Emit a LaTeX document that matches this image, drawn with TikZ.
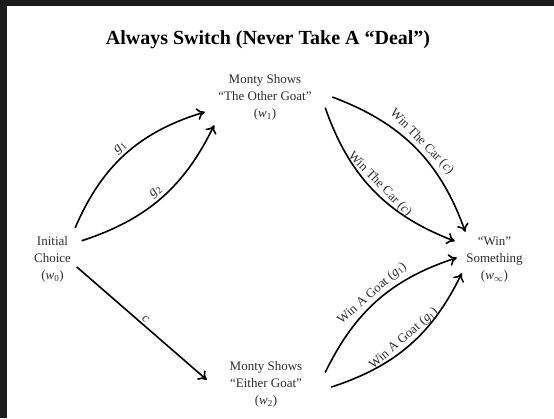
\documentclass[tikz,border=0pt]{standalone}
\usepackage{fontspec}
\setmainfont{Liberation Serif}
\usetikzlibrary{arrows.meta}
\definecolor{framecol}{RGB}{28,28,28}
\definecolor{txt}{RGB}{45,45,45}
\newcommand{\vsub}[2]{\textit{#1}\textsubscript{#2}}
\begin{document}
\begin{tikzpicture}[x=1pt,y=-1pt,
  state/.style={align=center, inner sep=0pt, font=\fontsize{13}{17}\selectfont, text=txt},
  arr/.style={line width=1.6pt, -{Computer Modern Rightarrow[length=8pt,width=12pt]}},
  lab/.style={font=\fontsize{13}{15}\selectfont, text=txt, sloped, above, inner sep=2pt}]
\useasboundingbox (0,0) rectangle (554,418);
\fill[framecol] (0,0) rectangle (554,418);
\fill[white] (7,6) rectangle (554,418);
\node[font=\bfseries\fontsize{20}{24}\selectfont, anchor=base] (title) at (268,44) {Always Switch (Never Take A “Deal”)};
\node[state, minimum width=48pt, minimum height=62pt] (w0) at (52.5,259) {Initial\\Choice\\(\vsub{w}{0})};
\node[state, minimum width=120pt, minimum height=56pt] (w1) at (265,97) {Monty Shows\\“The Other Goat”\\(\vsub{w}{1})};
\node[state, minimum width=118pt, minimum height=56pt] (w2) at (266,384) {Monty Shows\\“Either Goat”\\(\vsub{w}{2})};
\node[state, minimum width=65pt, minimum height=56pt] (winf) at (494.5,260) {“Win”\\Something\\(\vsub{w}{$\infty$})};
\draw[arr] (w0.54) to[bend left=25] node[lab, font=\fontsize{14}{16}\selectfont]{\vsub{g}{1}} (w1.194);
\draw[arr] ([xshift=5pt]w0.37) to[bend right=23] node[lab, font=\fontsize{14}{16}\selectfont]{\vsub{g}{2}} (w1.209);
\draw[arr] (w0.-18) -- node[lab]{\textit{c}} (w2.176);
\draw[arr] ([xshift=7pt]w1.east) to[bend left=25] node[lab]{Win The Car (\textit{c})} (winf.136);
\draw[arr] (w1.-10) to[bend right=25] node[lab]{Win The Car (\textit{c})} ([xshift=-7pt]winf.150);
\draw[arr] (w2.11) to[bend left=23] node[lab]{Win A Goat (\vsub{g}{1})} ([xshift=-5pt]winf.176);
\draw[arr] ([xshift=6pt]w2.-3) to[bend right=23] node[lab]{Win A Goat (\vsub{g}{1})} (winf.202);
\end{tikzpicture}
\end{document}
